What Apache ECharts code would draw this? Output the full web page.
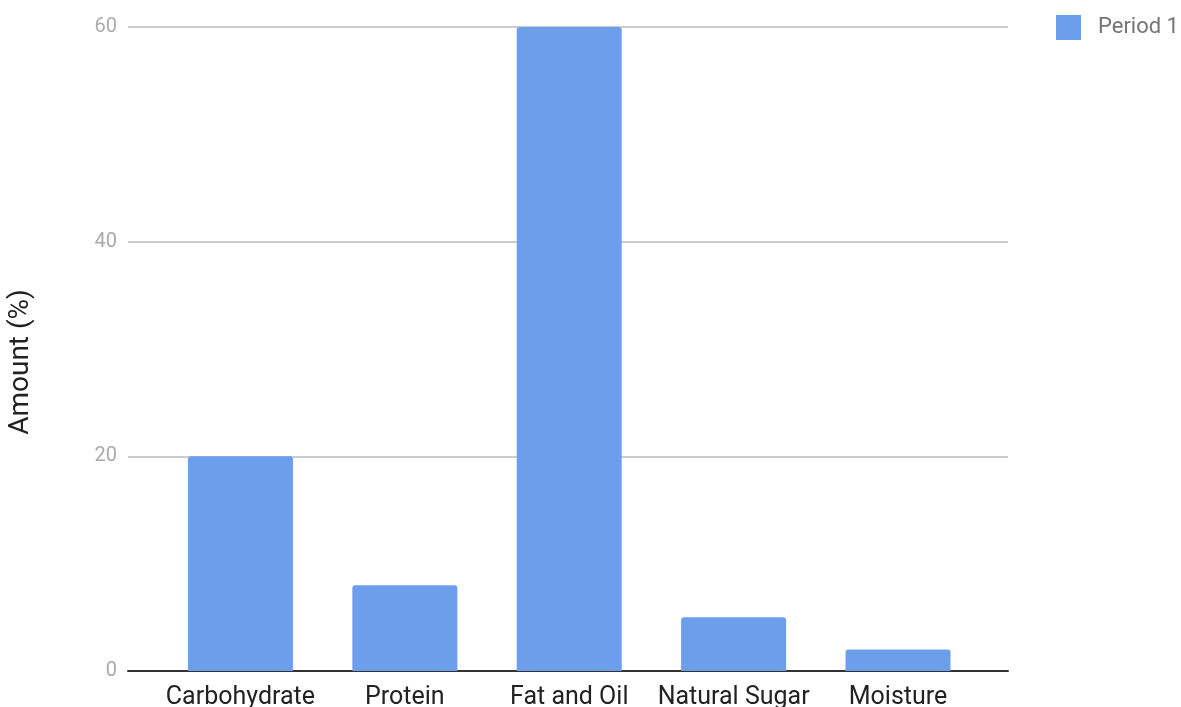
<!DOCTYPE html>
<html>
<head>
<meta charset="utf-8">
<script src="https://cdn.jsdelivr.net/npm/echarts@6/dist/echarts.min.js"></script>
<style>
    html, body { margin: 0; padding: 0; background: #fff; }
    #chart { width: 1181px; height: 707px; }
</style>
</head>
<body>
<div id="chart"></div>
<script>
const categories = ['Carbohydrate', 'Protein', 'Fat and Oil', 'Natural Sugar', 'Moisture'];
const period1 = [20, 8, 60, 5, 2];
const yTicks = [0, 20, 40, 60];

window.onload = () => {
    let chart = echarts.init(document.getElementById('chart'));
    let positions = categories.map((c, i) => i);

    let option = {
        animation: false,
        textStyle: { fontFamily: 'Roboto' },
        legend: {
            left: 1056,
            top: 15,
            padding: 0,
            icon: 'rect',
            itemWidth: 25,
            itemHeight: 25,
            textStyle: { fontSize: 22, color: '#757575', padding: [0, 0, 0, 12] },
            data: ['Period 1']
        },
        grid: {
            left: 128,
            right: 173,
            top: 27,
            bottom: 36,
            containLabel: false,
            outerBoundsMode: 'none'
        },
        xAxis: {
            type: 'value',
            min: -0.684,
            max: 4.669,
            splitLine: { show: false },
            axisTick: { show: false },
            axisLine: { show: true, lineStyle: { color: '#333', width: 2 } },
            axisLabel: {
                customValues: positions,
                formatter: v => categories[Math.round(v)],
                fontSize: 25,
                color: '#222',
                margin: 14
            }
        },
        yAxis: {
            type: 'value',
            min: 0,
            max: 60,
            interval: 20,
            name: 'Amount (%)',
            nameLocation: 'middle',
            nameRotate: 90,
            nameGap: 93,
            nameTextStyle: { fontSize: 28, color: '#222', padding: [0, 26, 0, 0] },
            axisLine: { show: false },
            axisTick: { show: false },
            axisLabel: {
                customValues: yTicks,
                fontSize: 20,
                color: '#aaaaaa',
                margin: 11
            },
            splitLine: { lineStyle: { color: '#cccccc', width: 2 } }
        },
        series: [{
            name: 'Period 1',
            type: 'bar',
            barWidth: 105,
            data: period1.map((v, i) => [i, v]),
            itemStyle: { color: '#6d9eeb', borderRadius: [3, 3, 0, 0] }
        }]
    };

    chart.setOption(option);
};
</script>
</body>
</html>
